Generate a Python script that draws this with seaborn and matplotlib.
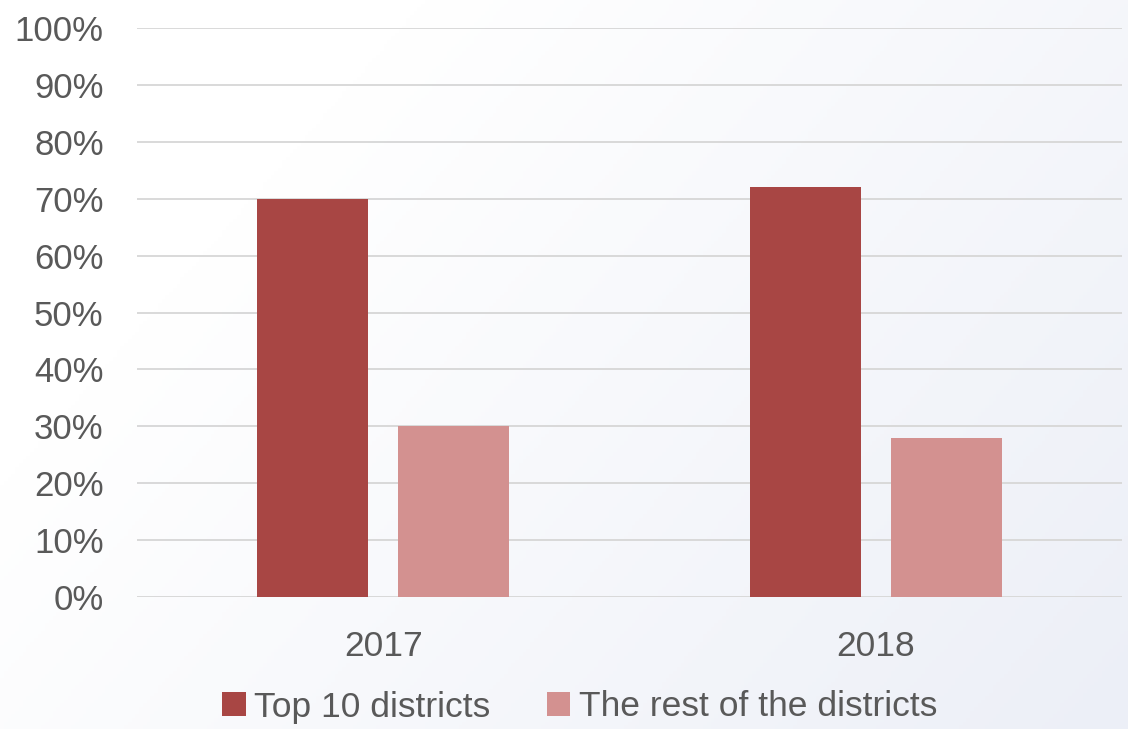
import numpy as np
import pandas as pd
import matplotlib
matplotlib.use("Agg")
import matplotlib.pyplot as plt
import seaborn as sns
from matplotlib import font_manager

years = ["2017", "2018"]
series_names = ["Top 10 districts", "The rest of the districts"]
top10 = [70, 72]
rest = [30, 28]
yticks = [0, 10, 20, 30, 40, 50, 60, 70, 80, 90, 100]
ytick_labels = [f"{v}%" for v in yticks]

colors = ["#A84644", "#D39190"]
text_color = "#595959"

df = pd.DataFrame({
    "year": years * 2,
    "series": [series_names[0]] * 2 + [series_names[1]] * 2,
    "value": top10 + rest,
})

sns.set_theme(style="white")
names = {f.name for f in font_manager.fontManager.ttflist}
narrow = "Liberation Sans Narrow" if "Liberation Sans Narrow" in names else "Liberation Sans"
plt.rcParams["font.family"] = ["Liberation Sans", "DejaVu Sans"]

fig = plt.figure(figsize=(11.28, 7.29), dpi=100)

# subtle background gradient
bg = fig.add_axes([0, 0, 1, 1], zorder=-10)
xx, yy = np.meshgrid(np.linspace(0, 1, 300), np.linspace(0, 1, 200))
t = np.clip((xx * 0.8 + yy * 0.45) - 0.3, 0, 1) / 0.95
t = np.clip(t, 0, 1)
c0 = np.array([1.0, 1.0, 1.0])
c1 = np.array([0xEC, 0xEF, 0xF7]) / 255.0
img = c0[None, None, :] * (1 - t[..., None]) + c1[None, None, :] * t[..., None]
bg.imshow(img, aspect="auto", extent=[0, 1, 0, 1], origin="upper")
bg.axis("off")

ax = fig.add_axes([137 / 1128, 1 - 597 / 729, (1122 - 137) / 1128, (597 - 28) / 729])
ax.patch.set_alpha(0)

sns.barplot(data=df, x="year", y="value", hue="series", palette=colors,
            width=0.572, gap=0.21, saturation=1, ax=ax, legend=True,
            linewidth=0, edgecolor="none", zorder=3)

ax.set_ylim(0, 100)
ax.set_xlim(-0.5, 1.5)
ax.set_yticks(yticks)
ax.set_yticklabels(ytick_labels)
ax.yaxis.grid(True, color="#D9D9D9", linewidth=1.4, zorder=0)
ax.set_axisbelow(True)
for s in ax.spines.values():
    s.set_visible(False)
ax.axhline(0, color="#D9D9D9", linewidth=2, zorder=2)
ax.set_xlabel("")
ax.set_ylabel("")
ax.tick_params(axis="y", length=0, pad=24, labelsize=25, labelcolor=text_color)
ax.tick_params(axis="x", length=0, pad=24, labelsize=25.5, labelcolor=text_color)
for lab in ax.get_xticklabels():
    lab.set_fontfamily([narrow, "DejaVu Sans"])

leg = ax.legend(loc="center", bbox_to_anchor=(580 / 1128, 1 - 707 / 729),
                bbox_transform=fig.transFigure, ncol=2, frameon=False,
                handlelength=0.65, handleheight=0.65, handletextpad=0.25,
                columnspacing=1.6,
                prop={"family": [narrow, "DejaVu Sans"], "size": 25.5})
for txt in leg.get_texts():
    txt.set_color(text_color)

fig.savefig("out.png", dpi=100)
